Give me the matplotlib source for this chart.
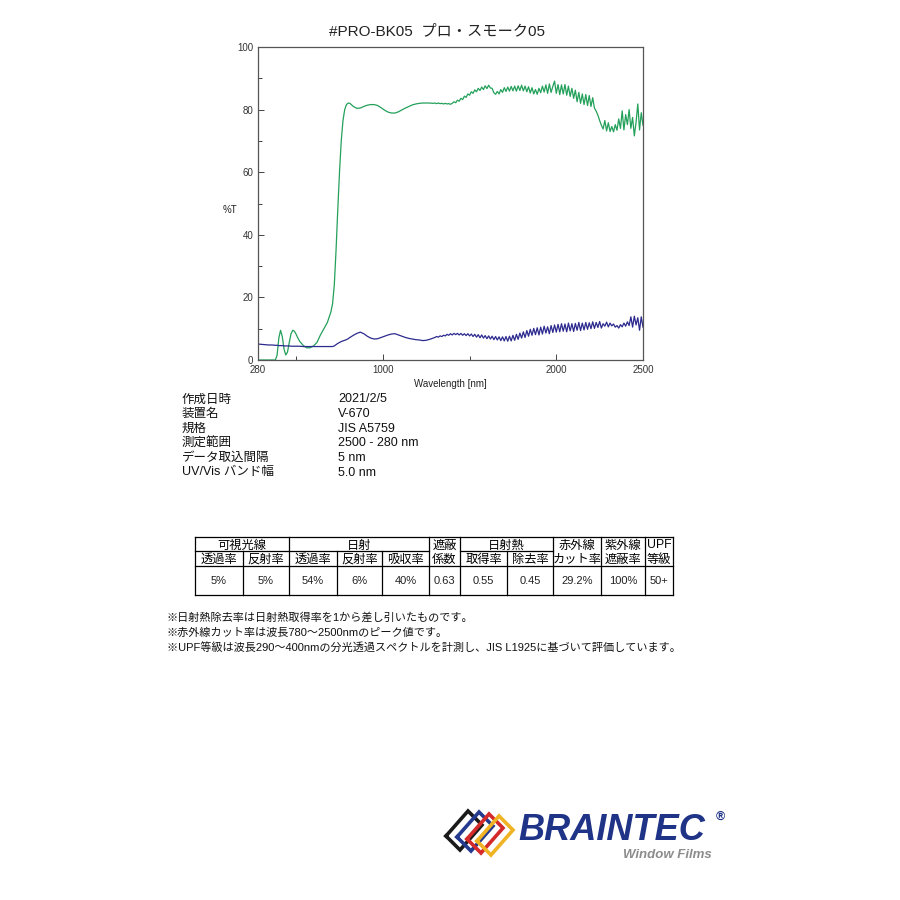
import matplotlib
matplotlib.use('Agg')
import matplotlib.pyplot as plt
from matplotlib.ticker import FixedLocator

plt.rcParams['font.family'] = ['Liberation Sans', 'Noto Sans CJK JP']

# spectrum, UV/Vis part
wl_uv = [280, 300, 320, 340, 360, 380, 390, 400, 410, 420,
         430, 440, 450, 460, 470, 480, 490, 500, 510, 520,
         540, 560, 580, 600, 620, 640, 660, 680, 700]
green_uv = [0, 0, 0, 0, 0, 0, 1.5, 7.0, 9.5, 7.5,
            3.5, 1.6, 2.5, 5.5, 8.3, 9.5, 9.2, 8.2, 7.0, 6.0,
            4.7, 3.9, 3.9, 4.5, 5.6, 8.0, 10.0, 12.0, 15.3]
blue_uv = [5.1, 5.0, 4.9, 4.8, 4.8, 4.7, 4.7, 4.6, 4.6, 4.6,
           4.5, 4.5, 4.5, 4.5, 4.4, 4.4, 4.4, 4.4, 4.4, 4.4,
           4.3, 4.3, 4.3, 4.3, 4.3, 4.3, 4.3, 4.3, 4.3]

# transition / smooth NIR part
wl_mid = [710, 720, 730, 740, 750, 760, 770, 780, 790, 800,
          810, 830, 850, 870, 890, 910, 930, 950, 970, 990,
          1010, 1030, 1050, 1070, 1090, 1110, 1130, 1150, 1170, 1190,
          1210, 1230, 1250, 1270, 1290]
green_mid = [18.0, 24.0, 35.0, 48.0, 60.0, 70.0, 76.5, 80.0, 81.6, 82.1,
             82.0, 81.0, 80.4, 80.5, 81.0, 81.4, 81.6, 81.6, 81.3, 80.6,
             79.8, 79.2, 78.9, 78.9, 79.3, 79.9, 80.5, 81.0, 81.5, 81.8,
             82.0, 82.1, 82.1, 82.1, 82.0]
blue_mid = [4.3, 4.5, 4.9, 5.3, 5.6, 5.9, 6.1, 6.3, 6.5, 6.8,
            7.2, 7.9, 8.5, 8.9, 8.4, 7.6, 7.0, 6.7, 6.8, 7.2,
            7.6, 8.0, 8.3, 8.4, 8.0, 7.6, 7.2, 6.9, 6.7, 6.5,
            6.4, 6.2, 6.3, 6.6, 7.0]

# noisy NIR part
wl_nir = [1300, 1310, 1320, 1330, 1340, 1350, 1360, 1370, 1380, 1390,
          1400, 1410, 1420, 1430, 1440, 1450, 1460, 1470, 1480, 1490,
          1500, 1510, 1520, 1530, 1540, 1550, 1560, 1570, 1580, 1590,
          1600, 1610, 1620, 1630, 1640, 1650, 1660, 1670, 1680, 1690,
          1700, 1710, 1720, 1730, 1740, 1750, 1760, 1770, 1780, 1790,
          1800, 1810, 1820, 1830, 1840, 1850, 1860, 1870, 1880, 1890,
          1900, 1910, 1920, 1930, 1940, 1950, 1960, 1970, 1980, 1990,
          2000, 2010, 2020, 2030, 2040, 2050, 2060, 2070, 2080, 2090,
          2100, 2110, 2120, 2130, 2140, 2150, 2160, 2170, 2180, 2190,
          2200, 2210, 2220, 2230, 2240, 2250, 2260, 2270, 2280, 2290,
          2300, 2310, 2320, 2330, 2340, 2350, 2360, 2370, 2380, 2390,
          2400, 2410, 2420, 2430, 2440, 2450, 2460, 2470, 2480, 2490,
          2500]
green_nir = [82.1, 81.9, 82.1, 81.9, 82.0, 81.8, 82.0, 81.8, 81.9, 81.7,
             82.0, 82.5, 82.2, 83.0, 82.7, 83.6, 83.2, 84.3, 83.9, 85.0,
             84.6, 85.7, 85.2, 86.3, 85.7, 86.8, 86.1, 87.2, 86.4, 87.6,
             86.7, 87.8, 86.9, 86.8, 85.4, 84.9, 85.8, 85.0, 86.4, 85.5,
             87.0, 85.8, 87.2, 85.9, 87.4, 86.0, 87.5, 85.9, 87.6, 86.1,
             87.8, 86.0, 87.5, 85.7, 87.3, 85.3, 87.0, 85.0, 86.4, 84.9,
             86.8, 85.4, 87.5, 85.6, 87.9, 85.2, 88.2, 85.5, 87.4, 89.1,
             85.2, 88.0, 84.8, 87.9, 85.0, 88.0, 84.6, 87.5, 84.2, 86.8,
             83.6, 86.2, 82.5, 85.5, 82.0, 85.0, 81.6, 84.8, 81.3, 84.5,
             81.0, 83.8, 80.5, 79.5, 78.2, 76.5, 75.0, 73.8, 76.5, 73.2,
             75.8, 73.0, 74.6, 72.9, 75.2, 73.4, 77.0, 74.0, 79.6, 73.5,
             78.4, 75.2, 80.0, 74.0, 77.5, 71.6, 76.0, 81.8, 73.5, 79.0,
             75.0]
blue_nir = [7.2, 7.5, 7.3, 7.7, 7.5, 7.9, 7.7, 8.2, 7.9, 8.4,
            8.0, 8.5, 8.1, 8.5, 8.0, 8.5, 7.9, 8.4, 7.8, 8.4,
            7.7, 8.3, 7.5, 8.2, 7.3, 8.1, 7.1, 8.0, 7.0, 7.8,
            6.8, 7.7, 6.7, 7.6, 6.5, 7.5, 6.4, 7.4, 6.2, 7.4,
            6.1, 7.5, 6.0, 7.6, 6.1, 7.9, 6.3, 8.2, 6.6, 8.6,
            7.0, 9.0, 7.2, 9.4, 7.6, 9.8, 7.9, 10.1, 8.1, 10.3,
            8.0, 10.5, 8.3, 10.8, 8.6, 10.6, 8.4, 11.0, 8.8, 11.2,
            8.9, 11.4, 9.0, 11.6, 9.2, 11.5, 9.0, 11.8, 9.3, 11.6,
            9.1, 11.7, 9.5, 12.0, 9.4, 11.8, 9.6, 12.0, 9.8, 11.9,
            10.0, 12.2, 10.1, 12.0, 10.4, 12.3, 10.2, 11.6, 10.8, 12.1,
            10.6, 11.8, 10.9, 11.5, 10.5, 11.0, 10.2, 11.3, 10.6, 11.8,
            10.8, 12.2, 11.0, 13.8, 10.5, 14.0, 11.2, 13.5, 9.5, 13.8,
            10.5]

wavelength = wl_uv + wl_mid + wl_nir
green = green_uv + green_mid + green_nir
blue = blue_uv + blue_mid + blue_nir

title = '#PRO-BK05  プロ・スモーク05'
info_labels = ['作成日時', '装置名', '規格', '測定範囲', 'データ取込間隔', 'UV/Vis バンド幅']
info_values = ['2021/2/5', 'V-670', 'JIS A5759', '2500 - 280 nm', '5 nm', '5.0 nm']

# table
col_edges = [195, 243, 289, 337, 382, 429, 460, 507, 553, 601, 645, 673]
row_edges = [537, 551, 566, 595]
group_heads = [(0, 2, '可視光線'), (2, 5, '日射'), (6, 8, '日射熱')]
tall_heads = [(5, '遮蔽', '係数'), (8, '赤外線', 'カット率'), (9, '紫外線', '遮蔽率'), (10, 'UPF', '等級')]
sub_heads = {0: '透過率', 1: '反射率', 2: '透過率', 3: '反射率', 4: '吸収率',
             6: '取得率', 7: '除去率'}
table_values = ['5%', '5%', '54%', '6%', '40%', '0.63', '0.55', '0.45', '29.2%', '100%', '50+']

notes = ['※日射熱除去率は日射熱取得率を1から差し引いたものです。',
         '※赤外線カット率は波長780～2500nmのピーク値です。',
         '※UPF等級は波長290～400nmの分光透過スペクトルを計測し、JIS L1925に基づいて評価しています。']

fig = plt.figure(figsize=(9, 9), dpi=100)
fig.set_facecolor('white')

# page overlay in pixel coordinates
pg = fig.add_axes((0, 0, 1, 1))
pg.set_xlim(0, 900)
pg.set_ylim(900, 0)
pg.axis('off')

pg.text(437, 35, title, fontsize=11, ha='center', va='baseline', color='#222222')

for i, (lab, val) in enumerate(zip(info_labels, info_values)):
    y = 402.5 + i * 14.6
    pg.text(182, y, lab, fontsize=9, va='baseline', color='#111111')
    pg.text(338, y, val, fontsize=9, va='baseline', color='#111111')

# table lines
lw = 0.9
x0, x1 = col_edges[0], col_edges[-1]
for ye in (row_edges[0], row_edges[2], row_edges[3]):
    pg.plot([x0, x1], [ye, ye], color='black', lw=lw)
pg.plot([col_edges[0], col_edges[5]], [row_edges[1], row_edges[1]], color='black', lw=lw)
pg.plot([col_edges[6], col_edges[8]], [row_edges[1], row_edges[1]], color='black', lw=lw)
for j, xe in enumerate(col_edges):
    top = row_edges[0] if j in (0, 2, 5, 6, 8, 9, 10, 11) else row_edges[1]
    pg.plot([xe, xe], [top, row_edges[3]], color='black', lw=lw)

hs = 8.8
for a, b, txt in group_heads:
    pg.text((col_edges[a] + col_edges[b]) / 2, 548.5, txt, fontsize=hs, ha='center', va='baseline')
for c, t1, t2 in tall_heads:
    xc = (col_edges[c] + col_edges[c + 1]) / 2
    pg.text(xc, 548.5, t1, fontsize=hs, ha='center', va='baseline')
    pg.text(xc, 563, t2, fontsize=hs, ha='center', va='baseline')
for c, txt in sub_heads.items():
    pg.text((col_edges[c] + col_edges[c + 1]) / 2, 563, txt, fontsize=hs, ha='center', va='baseline')
for c, txt in enumerate(table_values):
    pg.text((col_edges[c] + col_edges[c + 1]) / 2, 584.5, txt, fontsize=8, ha='center',
            va='baseline', color='#222222')

for i, n in enumerate(notes):
    pg.text(167, 621 + i * 15, n, fontsize=8, va='baseline', color='#111111')

# logo
frame_colors = ['#1a1a1a', '#243a8f', '#d42a2a', '#f0b323']
frame_left = [(446, 836), (457, 837), (467, 839), (477, 841)]
for col, (lx, ly) in zip(frame_colors, frame_left):
    xs = [lx, lx + 22, lx + 36, lx + 14, lx]
    ys = [ly, ly - 25, ly - 11, ly + 14, ly]
    pg.plot(xs, ys, color=col, lw=2.6, solid_joinstyle='miter')
pg.text(518, 840, 'BRAINTEC', fontsize=26, fontweight='bold', style='italic',
        color='#1f3387', va='baseline', ha='left')
pg.text(720, 817, '®', fontsize=9, fontweight='bold', color='#1f3387', va='center', ha='center')
pg.text(712, 858, 'Window Films', fontsize=9.5, fontweight='bold', style='italic',
        color='#8c8c8c', va='baseline', ha='right')

# spectrum
ax = fig.add_axes((258 / 900, 1 - 360 / 900, 385 / 900, 313 / 900))
ax.plot(wavelength, green, color='#23a05a', lw=0.9)
ax.plot(wavelength, blue, color='#2c2a8e', lw=0.9)
ax.set_xlim(280, 2500)
ax.set_ylim(0, 100)
ax.xaxis.set_major_locator(FixedLocator([280, 1000, 2000, 2500]))
ax.xaxis.set_minor_locator(FixedLocator([500, 1500]))
ax.yaxis.set_major_locator(FixedLocator([0, 20, 40, 60, 80, 100]))
ax.yaxis.set_minor_locator(FixedLocator([10, 30, 50, 70, 90]))
ax.tick_params(which='both', direction='in', labelsize=7, colors='#444444', labelcolor='#333333')
ax.tick_params(which='major', length=4, width=0.7)
ax.tick_params(which='minor', length=3, width=0.7)
for s in ax.spines.values():
    s.set_color('#555555')
    s.set_linewidth(0.9)
ax.set_xlabel('Wavelength [nm]', fontsize=7, color='#222222', labelpad=3)
ax.set_ylabel('%T', fontsize=7, color='#222222', rotation=0, va='center', ha='center')
ax.yaxis.set_label_coords(-0.073, 0.48)

plt.savefig('out.png', dpi=100)
